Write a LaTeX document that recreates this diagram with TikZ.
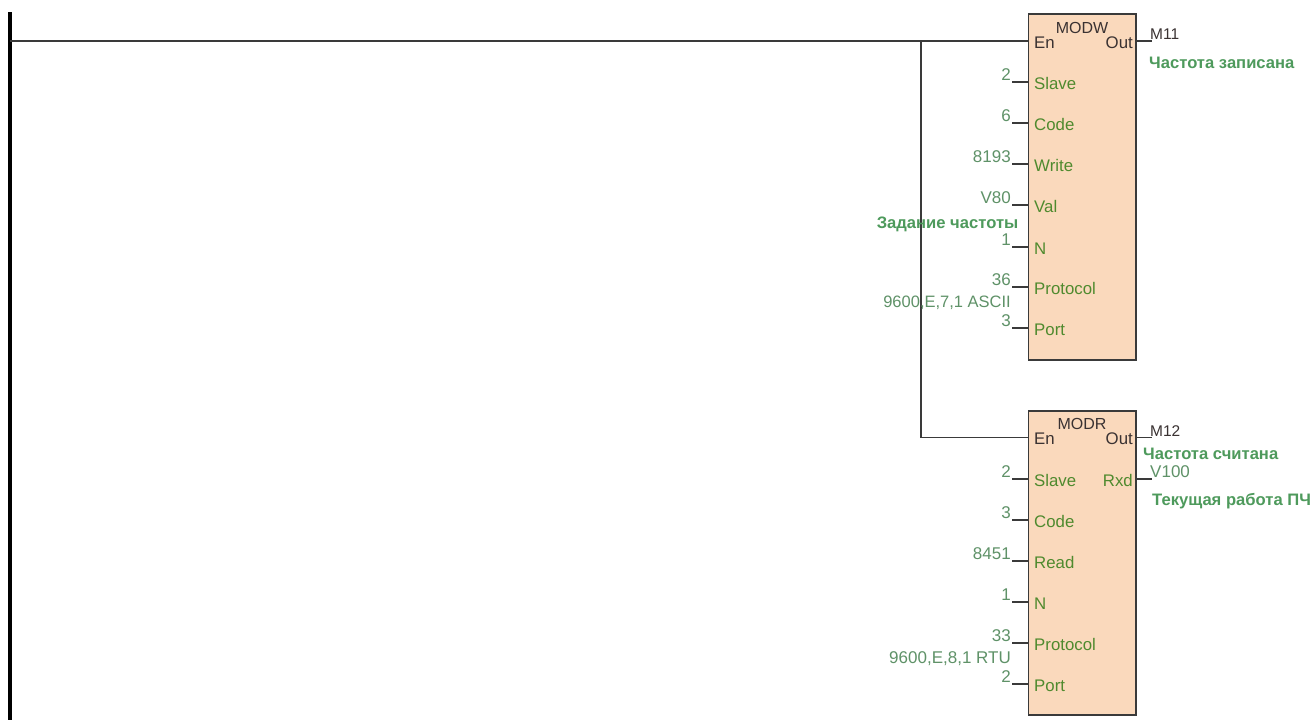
\documentclass[tikz,border=0pt]{standalone}
\usepackage{fontspec}
\setmainfont{Liberation Sans}
\definecolor{boxfill}{HTML}{FAD9BC}
\definecolor{wirecol}{HTML}{3A3A3A}
\definecolor{pincol}{HTML}{4F8A2E}
\definecolor{valcol}{HTML}{5F9268}
\definecolor{notecol}{HTML}{4E9A5C}
\definecolor{darktxt}{HTML}{3A3232}
\tikzset{
  wire/.style={draw=wirecol,line width=1.5pt},
  stub/.style={draw=wirecol,line width=1.2pt},
  blockbox/.style={draw=wirecol,fill=boxfill,line width=1.5pt,rectangle,inner sep=0pt},
  pinlabel/.style={anchor=base west,inner sep=0pt,text=pincol,font=\fontsize{16.8}{18}\selectfont},
  pindark/.style={pinlabel,text=darktxt},
  vallabel/.style={anchor=base east,inner sep=0pt,text=valcol,font=\fontsize{17}{18}\selectfont},
  note/.style={anchor=base west,inner sep=0pt,text=notecol,font=\fontsize{16.6}{18}\selectfont\bfseries},
  title/.style={anchor=base,inner sep=0pt,text=darktxt,font=\fontsize{16}{18}\selectfont},
  outval/.style={anchor=base west,inner sep=0pt,text=darktxt,font=\fontsize{15.5}{18}\selectfont},
}
% #1 name, #2 y of the stub, #3 value, #4 pin
\newcommand{\inpin}[4]{%
  \coordinate (#1s) at (1012,#2);
  \coordinate (#1b) at (1029,#2);
  \draw[stub] (#1s) -- (#1b);
  \node[vallabel] (#1v) at (1011,#2-2) {#3};
  \node[pinlabel] (#1p) at (1034,#2+7) {#4};
}
\begin{document}
\begin{tikzpicture}[x=1pt,y=-1pt]
\useasboundingbox[fill=white] (0,0) rectangle (1313,720);

% power rail
\coordinate (railtop) at (10,12);
\coordinate (railbot) at (10,720);
\draw[draw=black,line width=4pt] (railtop) -- (railbot);

% blocks
\node[blockbox,minimum width=107.5pt,minimum height=346pt] (modw) at (1082.25,187) {};
\node[blockbox,minimum width=107.5pt,minimum height=304pt] (modr) at (1082.25,563) {};

% wires
\coordinate (raila) at (10,41);
\coordinate (juncw) at (921,41);
\coordinate (enw) at (1029,41);
\coordinate (corner) at (921,437.5);
\coordinate (enr) at (1029,437.5);
\draw[wire] (raila) -- (juncw) -- (enw);
\draw[wire] (juncw) -- (corner) -- (enr);

% MODW
\node[title] (modwt) at (1082,33.5) {MODW};
\node[pindark] (modwen) at (1034,48) {En};
\node[pindark,anchor=base east] (modwout) at (1133,48) {Out};
\coordinate (outws) at (1136,41);
\coordinate (outwe) at (1152,41);
\draw[stub] (outws) -- (outwe);
\node[outval] (m11) at (1150,39) {M11};
\node[note] (n1) at (1149,68) {Частота записана};
\inpin{a}{82}{2}{Slave}
\inpin{b}{123}{6}{Code}
\inpin{c}{164}{8193}{Write}
\inpin{d}{205}{V80}{Val}
\inpin{e}{247}{1}{N}
\inpin{f}{287}{36}{Protocol}
\inpin{g}{328}{3}{Port}
\node[note,anchor=base east] (n2) at (1018.5,228) {Задание частоты};
\node[vallabel,font=\fontsize{16.5}{18}\selectfont] (n3) at (1011,307) {9600,E,7,1 ASCII};

% MODR
\node[title] (modrt) at (1082,429.5) {MODR};
\node[pindark] (modren) at (1034,444.5) {En};
\node[pindark,anchor=base east] (modrout) at (1133,444.5) {Out};
\coordinate (outrs) at (1136,437.5);
\coordinate (outre) at (1152,437.5);
\draw[stub] (outrs) -- (outre);
\node[outval] (m12) at (1150,436) {M12};
\node[note] (n4) at (1143,459.5) {Частота считана};
\inpin{h}{479}{2}{Slave}
\inpin{i}{520}{3}{Code}
\inpin{j}{561}{8451}{Read}
\inpin{k}{602}{1}{N}
\inpin{l}{643}{33}{Protocol}
\inpin{m}{684}{2}{Port}
\node[pinlabel,anchor=base east] (rxd) at (1133,486) {Rxd};
\coordinate (rxs) at (1136,479);
\coordinate (rxe) at (1152,479);
\draw[stub] (rxs) -- (rxe);
\node[vallabel,anchor=base west] (v100) at (1150,477) {V100};
\node[note] (n5) at (1152,505) {Текущая работа ПЧ};
\node[vallabel] (n6) at (1011,663) {9600,E,8,1 RTU};
\end{tikzpicture}
\end{document}
